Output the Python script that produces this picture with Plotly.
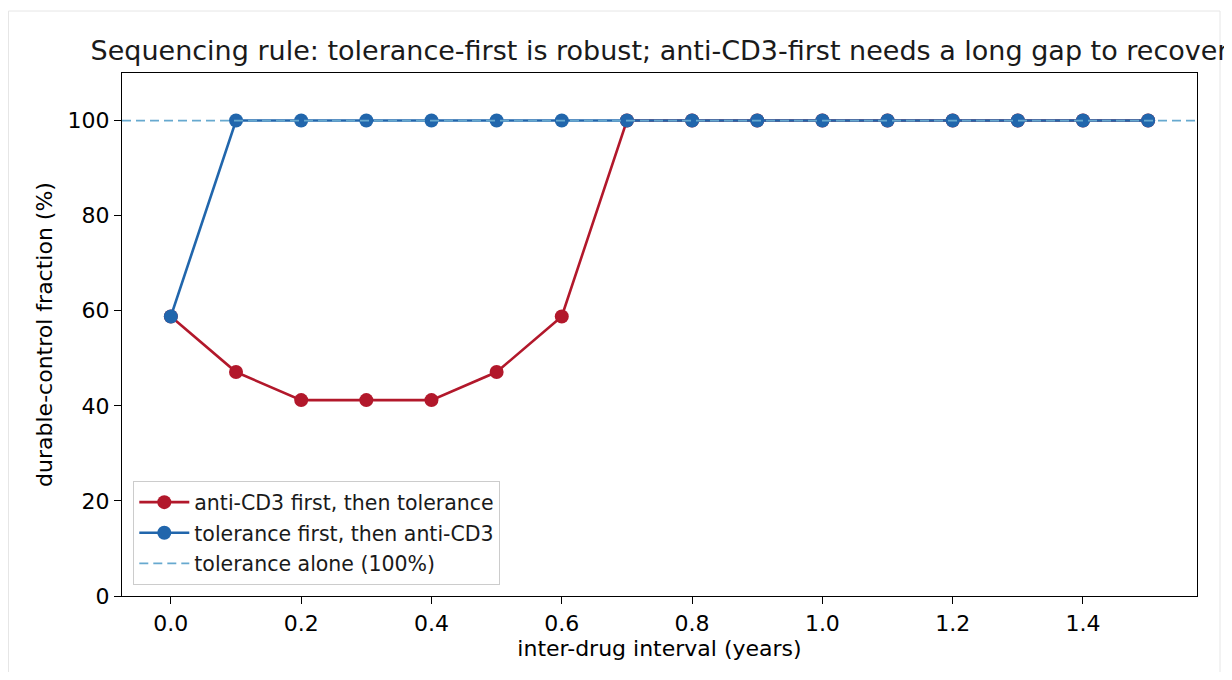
import plotly.graph_objects as go

interval_years = [0.0, 0.1, 0.2, 0.3, 0.4, 0.5, 0.6, 0.7, 0.8, 0.9, 1.0, 1.1, 1.2, 1.3, 1.4, 1.5]
anti_cd3_first = [58.8, 47.1, 41.2, 41.2, 41.2, 47.1, 58.8, 100, 100, 100, 100, 100, 100, 100, 100, 100]
tolerance_first = [58.8, 100, 100, 100, 100, 100, 100, 100, 100, 100, 100, 100, 100, 100, 100, 100]
tolerance_alone = 100

x_ticks = [0.0, 0.2, 0.4, 0.6, 0.8, 1.0, 1.2, 1.4]
y_ticks = [0, 20, 40, 60, 80, 100]

RED = "#b2182b"
BLUE = "#2166ac"
LIGHT = "#67a9cf"
FONT = "DejaVu Sans"
FS = 22
LFS = 20.5

# page body has an 8px margin; figure sized to fit inside the window
W, H = 1216, 664
L, R, T, B = 114, 27, 65, 76
pw = W - L - R
ph = H - T - B

fig = go.Figure()
fig.add_trace(go.Scatter(
    x=interval_years, y=anti_cd3_first, mode="lines+markers",
    name="anti-CD3 first, then tolerance", legendgroup="a",
    line=dict(color=RED, width=2.6), marker=dict(color=RED, size=14),
))
fig.add_trace(go.Scatter(
    x=interval_years, y=tolerance_first, mode="lines+markers",
    name="tolerance first, then anti-CD3", legendgroup="b",
    line=dict(color=BLUE, width=2.6), marker=dict(color=BLUE, size=14),
))
fig.add_shape(
    type="line", xref="x domain", yref="y", x0=0, x1=1,
    y0=tolerance_alone, y1=tolerance_alone, layer="above",
    line=dict(color=LIGHT, width=1.8, dash="9px,5px"),
    showlegend=True, name="tolerance alone (100%)", legendgroup="c",
)

# notebook output frame
fig.add_shape(
    type="rect", xref="paper", yref="paper",
    x0=(0.5 - L) / pw, x1=(1212 - L) / pw,
    y0=(T + ph - (H + 40)) / ph, y1=(T + ph - 3) / ph,
    line=dict(color="#e6e6e6", width=1), layer="below",
)

span = interval_years[-1] - interval_years[0]
xr = [interval_years[0] - 0.05 * span, interval_years[-1] + 0.05 * span]

axis_common = dict(
    showline=True, linecolor="black", linewidth=1.3, mirror=True,
    ticks="outside", ticklen=7, tickwidth=1.3, tickcolor="black",
    showgrid=False, zeroline=False,
    tickfont=dict(family=FONT, size=FS, color="black"),
)
fig.update_xaxes(
    range=xr, tickvals=x_ticks, ticktext=[f"{v:.1f}" for v in x_ticks],
    title=dict(text="inter-drug interval (years)", font=dict(family=FONT, size=FS, color="black"), standoff=6),
    **axis_common,
)
fig.update_yaxes(
    range=[0, 110], tickvals=y_ticks,
    title=dict(text="durable-control fraction (%)", font=dict(family=FONT, size=FS, color="black"), standoff=8),
    **axis_common,
)

fig.update_layout(
    width=W, height=H,
    margin=dict(l=L, r=R, t=T, b=B, autoexpand=False),
    paper_bgcolor="white", plot_bgcolor="white",
    font=dict(family=FONT, size=FS, color="black"),
    title=dict(
        text="Sequencing rule: tolerance-first is robust; anti-CD3-first needs a long gap to recover",
        x=0.5, xref="paper", xanchor="center",
        y=1 - 43 / H, yref="container", yanchor="middle",
        font=dict(family=FONT, size=27, color="#1a1a1a"),
    ),
    legend=dict(
        x=(125 - L) / pw, y=(588 - 577) / ph, xanchor="left", yanchor="bottom",
        bgcolor="rgba(255,255,255,0.8)", bordercolor="#cccccc", borderwidth=1.3,
        font=dict(family=FONT, size=LFS, color="#1a1a1a"),
        tracegroupgap=1, itemwidth=50,
    ),
    showlegend=True,
)

fig.write_html("out.html")
